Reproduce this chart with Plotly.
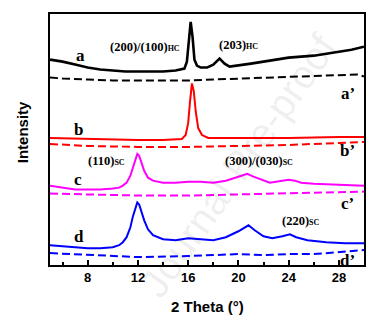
import plotly.graph_objects as go

# Intensities are in arbitrary units (offset stacked as in the figure)
x_a = [5, 6, 7, 8, 9, 10, 11, 12, 13, 14, 15, 15.5, 15.7, 15.9, 16.05, 16.2, 16.35, 16.5, 16.7, 17, 17.5, 18, 18.5, 18.9, 19.3, 20, 21, 22, 23, 24, 25, 26, 27, 28, 29, 30]
y_a = [207, 205, 202, 199, 197, 196, 195, 195, 195, 195, 196, 197, 198, 205, 225, 245, 230, 207, 201, 199, 199, 202, 208, 203, 200, 201, 203, 205, 207, 209, 210, 211, 213, 215, 217, 220]

x_a2 = [5, 6, 8, 10, 12, 14, 16, 18, 20, 22, 24, 26, 28, 29.5, 30]
y_a2 = [189, 188, 187, 186, 186, 186, 186, 187, 188, 189, 190, 191, 192, 192, 190]

x_b = [5, 8, 12, 14, 15.5, 15.8, 16.0, 16.15, 16.3, 16.45, 16.6, 16.8, 17.1, 17.6, 20, 24, 28, 30]
y_b = [128, 127, 126, 126, 127, 131, 143, 165, 183, 175, 155, 138, 131, 128, 128, 128, 129, 129]

x_b2 = [5, 8, 12, 16, 20, 24, 28, 30]
y_b2 = [122, 120, 119, 119, 120, 121, 123, 124]

x_c = [5, 6, 7, 8, 9, 10, 10.5, 10.8, 11.1, 11.4, 11.6, 11.8, 11.95, 12.1, 12.3, 12.5, 12.8, 13.2, 14, 15, 16, 17, 18, 19, 20, 20.7, 21.2, 22, 22.5, 23.5, 24, 24.5, 25, 26, 28, 30]
y_c = [80, 78, 76, 76, 76, 77, 78, 80, 83, 90, 99, 108, 112, 110, 103, 95, 88, 85, 83, 83, 84, 84, 83, 85, 89, 92, 89, 85, 83, 85, 86, 85, 83, 82, 81, 80]

x_c2 = [5, 8, 12, 16, 20, 24, 28, 30]
y_c2 = [72, 71, 70, 70, 71, 72, 73, 74]

x_d = [5, 6, 7, 8, 9, 10, 10.5, 10.8, 11.1, 11.4, 11.6, 11.8, 11.95, 12.1, 12.3, 12.5, 12.8, 13.2, 14, 15, 16, 17, 18, 19, 20, 20.8, 21.3, 22, 22.7, 23.5, 24.1, 24.6, 25.5, 27, 28.5, 30]
y_d = [20, 19, 18, 17, 17, 18, 20, 23, 28, 38, 49, 58, 63, 61, 53, 45, 36, 30, 26, 25, 27, 26, 25, 28, 34, 40, 35, 29, 27, 29, 31, 28, 25, 23, 22, 22]

x_d2 = [5, 8, 12, 16, 19, 20, 22, 24, 26, 28, 30]
y_d2 = [12, 10, 8, 9, 10, 11, 10, 11, 11, 13, 15]

x_ticks = [8, 12, 16, 20, 24, 28]

fig = go.Figure()

def solid(x, y, c, w=2):
    fig.add_trace(go.Scatter(x=x, y=y, mode="lines", line=dict(color=c, width=w), showlegend=False, hoverinfo="skip"))

def dashed(x, y, c):
    fig.add_trace(go.Scatter(x=x, y=y, mode="lines", line=dict(color=c, width=2, dash="8px,4px"), showlegend=False, hoverinfo="skip"))

solid(x_a, y_a, "black", 2.6)
dashed(x_a2, y_a2, "black")
solid(x_b, y_b, "#ff0000")
dashed(x_b2, y_b2, "#ff0000")
solid(x_c, y_c, "#ff00ff")
dashed(x_c2, y_c2, "#ff00ff")
solid(x_d, y_d, "#0000ff")
dashed(x_d2, y_d2, "#0000ff")

serif = "Liberation Serif"
labels = [
    (7.4, 211, "a", 17), (7.3, 137, "b", 17), (7.2, 86, "c", 17), (7.3, 29, "d", 17),
    (28.7, 173, "a’", 17), (28.7, 115, "b’", 17), (28.7, 62, "c’", 17), (28.7, 5, "d’", 17),
]
anns = []
for x, y, t, s in labels:
    anns.append(dict(x=x, y=y, text="<b>%s</b>" % t, showarrow=False, font=dict(family=serif, size=s, color="black")))

small = "<span style='font-size:8px'>%s</span>"
peaks = [
    (12.6, 220, "(200)/(100)" + small % "HC"),
    (20.0, 222, "(203)" + small % "HC"),
    (9.5, 105, "(110)" + small % "SC"),
    (21.6, 105, "(300)/(030)" + small % "SC"),
    (25.0, 44, "(220)" + small % "SC"),
]
for x, y, t in peaks:
    anns.append(dict(x=x, y=y, text="<b>%s</b>" % t, showarrow=False, font=dict(family=serif, size=12.5, color="black")))

anns.append(dict(x=-0.085, y=0.53, xref="paper", yref="paper", xanchor="center", yanchor="middle",
                 text="<b>Intensity</b>", textangle=-90,
                 showarrow=False, font=dict(family="Liberation Sans", size=15, color="black")))
anns.append(dict(x=0.5, y=-0.166, xref="paper", yref="paper", xanchor="center", yanchor="middle",
                 text="<b>2 Theta (°)</b>",
                 showarrow=False, font=dict(family="Liberation Sans", size=15, color="black")))
anns.append(dict(x=0.6, y=0.4, xref="paper", yref="paper", xanchor="center", yanchor="middle",
                 text="Journal Pre-proof", textangle=-55,
                 showarrow=False, font=dict(family="Liberation Sans", size=40, color="rgba(0,0,0,0.08)")))

fig.update_layout(
    width=378, height=324,
    margin=dict(l=50, r=12, t=12, b=59),
    paper_bgcolor="white", plot_bgcolor="white",
    annotations=anns,
    showlegend=False,
)
fig.update_xaxes(
    range=[5, 30], tickvals=x_ticks, ticktext=["<b>%d</b>" % v for v in x_ticks],
    ticks="inside", ticklen=5, tickwidth=1.5, tickcolor="black",
    minor=dict(dtick=2, tick0=0, ticks="inside", ticklen=3, tickwidth=1.5, tickcolor="black"),
    showline=True, linecolor="black", linewidth=1.5, mirror=True, showgrid=False, zeroline=False,
    tickfont=dict(family="Liberation Sans", size=13, color="black"),
)
fig.update_yaxes(
    range=[0, 253], showticklabels=False, ticks="",
    showline=True, linecolor="black", linewidth=1.5, mirror=True, showgrid=False, zeroline=False,
)

fig.write_html("out.html")
